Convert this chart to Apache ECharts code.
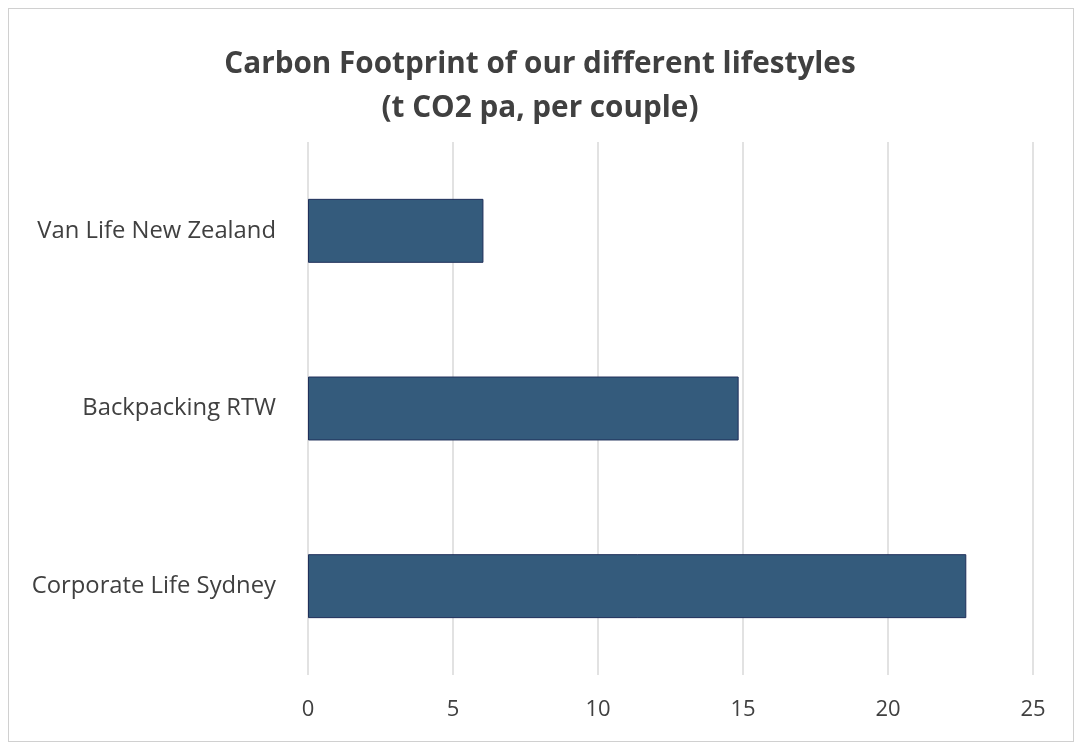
<!DOCTYPE html>
<html>
<head>
<meta charset="utf-8">
<script src="https://cdn.jsdelivr.net/npm/echarts@6/dist/echarts.min.js"></script>
<style>
  html, body { margin: 0; padding: 0; background: #fff; }
  #chart { width: 1080px; height: 748px; box-sizing: border-box; }
  #frame { position: absolute; left: 8px; top: 8px; width: 1064px; height: 732px; border: 1px solid #d0d0d0; pointer-events: none; }
</style>
</head>
<body>
<div id="chart"></div>
<div id="frame"></div>
<script>
// --- Data ---
const categories = ['Corporate Life Sydney', 'Backpacking RTW', 'Van Life New Zealand'];
const footprint = [22.7, 14.85, 6.05];
const axisMax = 25;
const axisStep = 5;

const chart = echarts.init(document.getElementById('chart'));
const fontFamily = '"Open Sans", Lato, sans-serif';

const option = {
    animation: false,
    title: {
        text: 'Carbon Footprint of our different lifestyles\n(t CO2 pa, per couple)',
        left: 'center',
        top: 38,
        textStyle: { fontFamily, fontSize: 29.7, fontWeight: 'bold', color: '#404040', lineHeight: 44 }
    },
    grid: { left: 308, right: 47, top: 142, bottom: 73 },
    xAxis: {
        type: 'value',
        min: 0, max: axisMax, interval: axisStep,
        axisLine: { show: false },
        axisTick: { show: false },
        splitLine: { lineStyle: { color: '#d9d9d9', width: 1.5 } },
        axisLabel: { fontFamily, fontSize: 22, color: '#404040', margin: 24 }
    },
    yAxis: {
        type: 'category',
        data: categories,
        axisLine: { show: false },
        axisTick: { show: false },
        axisLabel: { fontFamily, fontSize: 23.8, color: '#404040', margin: 32 }
    },
    series: [{
        type: 'bar',
        data: footprint,
        barCategoryGap: '64%',
        itemStyle: { color: '#345b7c', borderColor: '#1f2f5a', borderWidth: 1 }
    }]
};
chart.setOption(option);
</script>
</body>
</html>
